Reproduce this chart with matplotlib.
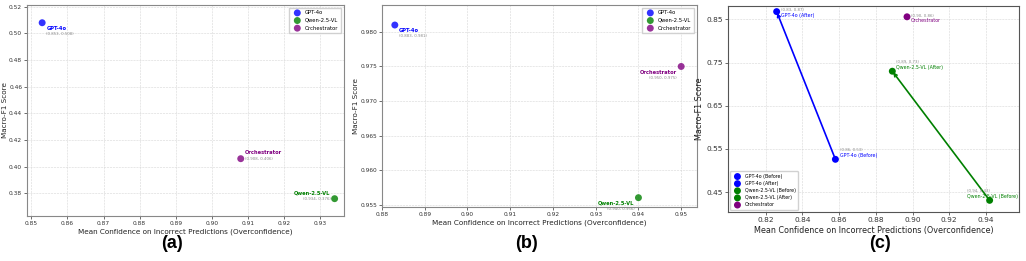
import matplotlib
matplotlib.use("Agg")
import matplotlib.pyplot as plt

# ---------------- data ----------------
models_ab = ["GPT-4o", "Qwen-2.5-VL", "Orchestrator"]
a_conf = [0.853, 0.934, 0.908]
a_f1 = [0.508, 0.376, 0.406]
b_conf = [0.883, 0.940, 0.950]
b_f1 = [0.981, 0.956, 0.975]

c_labels = ["GPT-4o (Before)", "GPT-4o (After)", "Qwen-2.5-VL (Before)",
            "Qwen-2.5-VL (After)", "Orchestrator"]
c_conf = [0.858, 0.826, 0.942, 0.889, 0.897]
c_f1 = [0.526, 0.868, 0.431, 0.730, 0.856]

colors_ab = ["blue", "green", "purple"]
colors_c = ["blue", "blue", "green", "green", "purple"]

a_xticks = [0.85, 0.86, 0.87, 0.88, 0.89, 0.90, 0.91, 0.92, 0.93]
a_yticks = [0.38, 0.40, 0.42, 0.44, 0.46, 0.48, 0.50, 0.52]
b_xticks = [0.88, 0.89, 0.90, 0.91, 0.92, 0.93, 0.94, 0.95]
b_yticks = [0.955, 0.960, 0.965, 0.970, 0.975, 0.980]
c_xticks = [0.82, 0.84, 0.86, 0.88, 0.90, 0.92, 0.94]
c_yticks = [0.45, 0.55, 0.65, 0.75, 0.85]

XLABEL = "Mean Confidence on Incorrect Predictions (Overconfidence)"
YLABEL = "Macro-F1 Score"

W, H = 1026, 261
fig = plt.figure(figsize=(W / 100, H / 100), dpi=100)
plt.rcParams['font.family'] = ['DejaVu Sans']


def add_ax(l, r, t, b):
    return fig.add_axes([l / W, (H - b) / H, (r - l) / W, (b - t) / H])


def style(ax, xt, yt, fmt_x, fmt_y):
    ax.set_xticks(xt)
    ax.set_xticklabels([fmt_x.format(v) for v in xt])
    ax.set_yticks(yt)
    ax.set_yticklabels([fmt_y.format(v) for v in yt])
    ax.tick_params(labelsize=4.2, length=2, width=0.5, pad=1.5, colors='#333333')
    ax.grid(True, linestyle='--', linewidth=0.4, color='#cccccc', alpha=0.8)
    ax.set_axisbelow(True)
    for s in ax.spines.values():
        s.set_color('#888888')
        s.set_linewidth(0.8)
    ax.set_xlabel(XLABEL, fontsize=5.2, labelpad=2, color='#222222')
    ax.set_ylabel(YLABEL, fontsize=5.2, labelpad=1, color='#222222')


def label_ab(ax, x, y, name, col, ha, dy_name, dy_coord, dx):
    ax.annotate(name, (x, y), xytext=(dx, dy_name), textcoords='offset points',
                ha=ha, va='center', fontsize=3.7, fontweight='bold', color=col)
    ax.annotate(f"({x:.3f}, {y:.3f})", (x, y), xytext=(dx, dy_coord),
                textcoords='offset points', ha=ha, va='center', fontsize=2.8,
                color='#888888')


LEG = dict(fontsize=3.8, markerscale=1.0, handletextpad=0.5, borderpad=0.5,
           labelspacing=0.5, framealpha=0.9, edgecolor='#cccccc')

# ---------------- panel (a) ----------------
axa = add_ax(27, 344, 5, 216)
for i, m in enumerate(models_ab):
    axa.scatter(a_conf[i], a_f1[i], s=25, color=colors_ab[i], alpha=0.8,
                edgecolors='none', label=m, zorder=3)
axa.set_xlim(0.8488, 0.9366)
axa.set_ylim(0.363, 0.5213)
style(axa, a_xticks, a_yticks, "{:.2f}", "{:.2f}")
label_ab(axa, a_conf[0], a_f1[0], models_ab[0], colors_ab[0], 'left', -4.0, -8.0, 3)
label_ab(axa, a_conf[1], a_f1[1], models_ab[1], colors_ab[1], 'right', 4.3, 0, -3)
label_ab(axa, a_conf[2], a_f1[2], models_ab[2], colors_ab[2], 'left', 4.3, 0, 3)
axa.legend(loc='upper right', fancybox=False, **LEG)

# ---------------- panel (b) ----------------
axb = add_ax(382, 697, 5, 207)
for i, m in enumerate(models_ab):
    axb.scatter(b_conf[i], b_f1[i], s=25, color=colors_ab[i], alpha=0.8,
                edgecolors='none', label=m, zorder=3)
axb.set_xlim(0.88, 0.9537)
axb.set_ylim(0.95465, 0.9839)
style(axb, b_xticks, b_yticks, "{:.2f}", "{:.3f}")
label_ab(axb, b_conf[0], b_f1[0], models_ab[0], colors_ab[0], 'left', -4.0, -8.0, 3)
label_ab(axb, b_conf[1], b_f1[1], models_ab[1], colors_ab[1], 'right', -4.0, -8.0, -3)
label_ab(axb, b_conf[2], b_f1[2], models_ab[2], colors_ab[2], 'right', -4.0, -8.0, -3)
axb.legend(loc='upper right', fancybox=False, **LEG)

# ---------------- panel (c) ----------------
axc = add_ax(728, 1019, 6, 212)
for (i0, i1) in [(0, 1), (2, 3)]:
    axc.annotate('', xy=(c_conf[i1], c_f1[i1]), xytext=(c_conf[i0], c_f1[i0]),
                 arrowprops=dict(arrowstyle='->', color=colors_c[i0], lw=1.2,
                                 mutation_scale=5, shrinkA=0, shrinkB=1),
                 zorder=2)
for i, lab in enumerate(c_labels):
    axc.scatter(c_conf[i], c_f1[i], s=25, color=colors_c[i], edgecolors='none',
                label=lab, zorder=3)
axc.set_xlim(0.7995, 0.958)
axc.set_ylim(0.404, 0.881)
style(axc, c_xticks, c_yticks, "{:.2f}", "{:.2f}")
axc.tick_params(labelsize=5.3)
axc.set_xlabel(XLABEL, fontsize=5.8, labelpad=2, color='#222222')
axc.set_ylabel(YLABEL, fontsize=5.8, labelpad=2, color='#222222')
for s in axc.spines.values():
    s.set_color('#555555')

c_offsets = [(3, 6.5, 3.0), (3, 1.5, -2.5), (-16, 6.5, 3.0), (3, 6.5, 3.0), (3, 0.5, -3)]
for i, lab in enumerate(c_labels):
    dx, dyc, dyl = c_offsets[i]
    axc.annotate(f"({c_conf[i]:.2f}, {c_f1[i]:.2f})", (c_conf[i], c_f1[i]),
                 xytext=(dx, dyc), textcoords='offset points', ha='left',
                 va='center', fontsize=2.8, color='#888888')
    axc.annotate(lab, (c_conf[i], c_f1[i]), xytext=(dx, dyl),
                 textcoords='offset points', ha='left', va='center',
                 fontsize=3.4, color=colors_c[i])
axc.legend(loc='lower left', fontsize=3.4, markerscale=1.0, handletextpad=0.5,
           borderpad=0.5, labelspacing=0.45, framealpha=0.9, edgecolor='#cccccc',
           fancybox=True)

# ---------------- sub-figure labels ----------------
for x, t in [(172, "(a)"), (527, "(b)"), (880, "(c)")]:
    fig.text(x / W, 1 - 243 / H, t, ha='center', va='center', fontsize=13,
             fontweight='bold', family=['Liberation Sans', 'DejaVu Sans'])

fig.savefig("out.png", dpi=100)
